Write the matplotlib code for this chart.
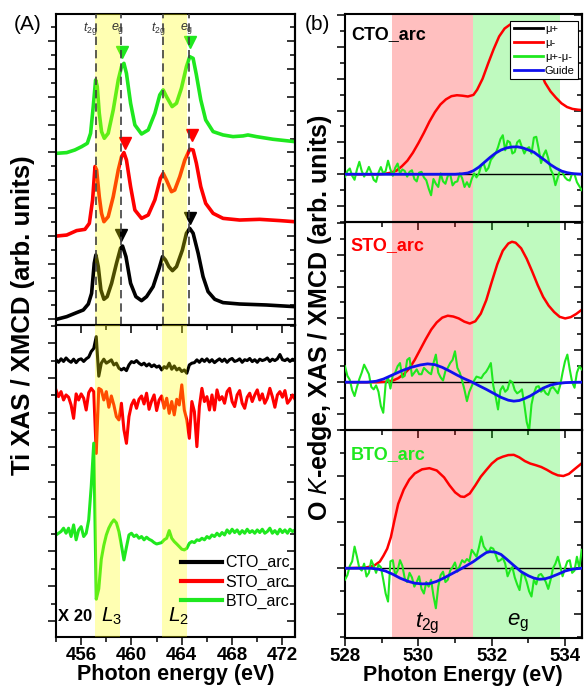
import numpy as np
import matplotlib
matplotlib.use("Agg")
import matplotlib.pyplot as plt
from matplotlib.ticker import MultipleLocator, NullFormatter
from matplotlib.lines import Line2D

plt.rcParams['font.family'] = ['Liberation Sans', 'DejaVu Sans']
plt.rcParams['mathtext.fontset'] = 'custom'
plt.rcParams['mathtext.rm'] = 'Liberation Sans'
plt.rcParams['mathtext.it'] = 'Liberation Sans:italic'
plt.rcParams['mathtext.bf'] = 'Liberation Sans:bold'

# ---------------- Ti L-edge XAS (panel A, top) ----------------
xas_cto_e = [454.05, 454.85, 455.64, 456.17, 456.57, 456.83, 457.04, 457.17, 457.36, 457.57, 457.81,
             458.07, 458.42, 458.81, 459.13, 459.29, 459.56, 459.93, 460.35, 460.8, 461.2, 461.72,
             462.2, 462.47, 462.7, 462.97, 463.26, 463.58, 464.05, 464.37, 464.63, 464.9, 465.3,
             465.69, 466.09, 466.62, 467.28, 468.6, 470.72, 472.97]
xas_cto_y = [0.41, 0.6, 0.89, 1.08, 1.51, 2.28, 4.44, 5.04, 4.2, 2.52, 1.85,
             2.04, 3.0, 4.44, 5.52, 5.68, 4.92, 3.0, 2.04, 1.75, 2.04, 2.76,
             4.08, 4.92, 4.68, 4.2, 3.91, 4.2, 5.4, 6.6, 6.95, 6.6, 5.16,
             3.48, 2.4, 1.85, 1.61, 1.51, 1.44, 1.32]
xas_sto_e = [454.05, 454.85, 455.64, 456.3, 456.65, 456.91, 457.1, 457.23, 457.44, 457.62, 457.81,
             458.15, 458.55, 458.95, 459.21, 459.4, 459.6, 459.93, 460.27, 460.8, 461.33, 461.86,
             462.3, 462.52, 462.78, 463.18, 463.44, 463.84, 464.24, 464.63, 464.9, 465.16, 465.51,
             465.9, 466.49, 467.28, 468.6, 470.19, 471.78, 472.97]
xas_sto_y = [6.4, 6.47, 6.79, 6.88, 7.31, 9.0, 11.4, 11.15, 9.23, 8.03, 7.43,
             7.79, 9.23, 11.15, 12.11, 12.4, 11.87, 9.95, 8.27, 7.67, 7.91, 9.0,
             10.55, 10.91, 10.43, 9.59, 9.71, 10.67, 11.87, 12.64, 12.59, 11.63, 9.95,
             8.75, 8.03, 7.67, 7.55, 7.6, 7.51, 7.43]
xas_bto_e = [454.05, 454.85, 455.5, 456.04, 456.49, 456.75, 456.96, 457.15, 457.28, 457.44, 457.62,
             457.84, 458.15, 458.55, 458.95, 459.21, 459.4, 459.6, 459.93, 460.27, 460.8, 461.33,
             461.86, 462.25, 462.52, 462.78, 463.23, 463.58, 463.97, 464.37, 464.63, 464.9, 465.16,
             465.51, 465.9, 466.49, 467.28, 468.07, 468.87, 469.26, 469.93, 471.25, 472.97]
xas_bto_y = [12.35, 12.4, 12.59, 12.83, 13.07, 13.79, 15.71, 17.63, 17.15, 15.23, 13.91,
             13.43, 13.79, 15.47, 17.63, 18.59, 18.82, 18.1, 15.95, 14.39, 13.74, 14.03,
             15.23, 16.55, 16.91, 16.43, 15.71, 15.95, 17.03, 18.59, 19.3, 19.18, 17.99,
             16.19, 14.75, 13.91, 13.67, 13.55, 13.6, 13.67, 13.55, 13.36, 13.19]
# e_g peak markers
tri_e_cto, tri_y_cto = [459.13, 464.66], [6.47, 7.67]
tri_e_sto, tri_y_sto = [459.45, 464.82], [13.12, 13.67]
tri_e_bto, tri_y_bto = [459.24, 464.63], [19.66, 20.38]
ti_guides = [457.15, 459.16, 462.5, 464.6]
ti_bands = [(457.1, 459.1), (462.4, 464.45)]

# ---------------- Ti L-edge XMCD (panel A, bottom), x20 ----------------
xmcd_e = np.round(454.0 + 0.2 * np.arange(96), 2)
xmcd_cto = [0.05, -0.1, 0.1, -0.05, 0.15, 0.0, -0.1, 0.08, -0.12, 0.05,
            0.1, -0.05, 0.1, 0.2, 0.52, 0.7, 1.38, -0.9, -0.15, 0.08,
            -0.15, -0.06, 0.04, -0.25, -0.15, -0.44, -0.54, -0.44, -0.58, -0.25,
            -0.06, -0.12, 0.0, -0.15, -0.25, -0.15, -0.31, -0.19, -0.35, -0.25,
            -0.38, -0.31, -0.54, -0.35, -0.44, -0.15, -0.5, -0.31, -0.54, -0.44,
            -0.63, -0.54, -0.73, -0.25, -0.15, -0.12, 0.04, -0.1, 0.08, -0.05,
            0.1, -0.08, 0.05, -0.12, 0.0, 0.1, -0.05, 0.08, -0.1, 0.05,
            0.12, -0.05, 0.0, 0.1, -0.1, 0.05, 0.0, 0.12, -0.06, 0.05,
            -0.1, 0.08, 0.0, 0.05, 0.15, -0.05, 0.08, 0.0, 0.1, 0.35,
            0.05, 0.0, 0.1, -0.05, 0.08, 0.02]
xmcd_sto = [0.29, -0.1, 0.19, -0.29, 0.0, -0.13, -0.58, -1.35, 0.06, -0.29,
            0.06, -0.19, -0.87, 0.13, 0.38, 0.19, -3.37, 0.38, 0.29, -0.29,
            0.19, -0.71, -0.06, -0.58, -1.25, -1.44, -0.48, -2.0, -2.79, -1.25,
            -0.58, -0.29, -0.77, -0.25, -0.06, -0.52, 0.1, -0.83, -0.35, 0.0,
            -0.9, -0.29, -0.06, -0.77, -0.19, -1.06, -0.38, -1.15, -0.25, -0.58,
            0.58, -0.87, -1.44, -2.5, -0.38, -0.96, -2.98, -0.67, 0.38, -0.38,
            -0.1, -0.87, 0.0, -0.87, 0.29, -0.29, -0.1, -0.48, 0.19, 0.38,
            -0.38, -0.67, 0.0, 0.25, -0.48, -0.77, -0.13, 0.1, -0.38, 0.0,
            0.29, -0.29, 0.06, -0.48, -0.19, 0.38, -0.1, -0.71, 0.0, 0.19,
            -0.13, 0.25, -0.48, -0.29, 0.0, -0.25]
xmcd_bto = [-0.1, 0.0, 0.1, 0.29, 0.0, 0.29, -0.19, 0.48, -0.38, 0.19,
            0.38, -0.19, 0.0, 0.77, 2.69, 5.19, -3.8, -3.2, -1.5, -0.7,
            -0.1, 0.3, 0.58, 0.77, 0.6, 0.1, -0.7, -1.54, -0.8, -0.1,
            0.0, -0.19, -0.1, -0.29, -0.19, -0.38, -0.23, -0.35, -0.42, -0.54,
            -0.62, -0.58, -0.54, -0.38, -0.29, 0.15, -0.29, -0.48, -0.62, -0.77,
            -0.92, -0.96, -0.87, -0.58, -0.48, -0.54, -0.38, -0.42, -0.29, -0.38,
            -0.19, -0.29, -0.1, -0.19, 0.0, -0.15, 0.04, -0.1, 0.19, 0.0,
            0.23, 0.04, 0.19, -0.04, 0.15, 0.0, 0.23, 0.04, 0.15, 0.0,
            0.19, 0.04, 0.23, 0.0, 0.1, 0.29, 0.0, 0.15, -0.04, 0.23,
            0.04, 0.19, 0.0, 0.23, 0.1, 0.19]
xmcd_offsets = {'CTO_arc': 15.93, 'STO_arc': 13.95, 'BTO_arc': 5.98}

# ---------------- O K-edge (panel b) ----------------
ok_cto_mu_e = [528.0, 528.5, 528.9, 529.1, 529.25, 529.4, 529.55, 529.7, 529.85, 530.0, 530.15, 530.3,
               530.45, 530.6, 530.75, 530.9, 531.05, 531.2, 531.35, 531.5, 531.6, 531.75, 531.9, 532.05,
               532.2, 532.35, 532.5, 532.6, 532.72, 532.85, 533.0, 533.15, 533.3, 533.45, 533.6, 533.75,
               533.9, 534.05, 534.2, 534.35, 534.45]
ok_cto_mu_y = [0.0, 0.0, 0.0, 0.03, 0.1, 0.22, 0.5, 0.85, 1.35, 1.95, 2.6, 3.3,
               3.9, 4.38, 4.7, 4.9, 4.96, 4.93, 4.88, 4.98, 5.3, 6.0, 6.95, 7.85,
               8.65, 9.15, 9.4, 9.43, 9.35, 9.05, 8.5, 7.65, 6.6, 5.75, 5.2, 4.8,
               4.45, 4.22, 4.1, 4.05, 4.03]
ok_sto_mu_e = [528.0, 528.9, 529.1, 529.3, 529.45, 529.6, 529.75, 529.9, 530.05, 530.2, 530.35, 530.5,
               530.65, 530.8, 530.95, 531.1, 531.25, 531.4, 531.55, 531.7, 531.85, 532.0, 532.15, 532.3,
               532.45, 532.55, 532.65, 532.8, 532.95, 533.1, 533.25, 533.4, 533.55, 533.7, 533.85, 534.0,
               534.15, 534.3, 534.45]
ok_sto_mu_y = [0.0, 0.0, 0.03, 0.1, 0.25, 0.5, 0.85, 1.4, 2.05, 2.7, 3.3, 3.75,
               4.05, 4.17, 4.12, 4.0, 3.8, 3.68, 3.82, 4.3, 5.15, 6.3, 7.4, 8.25,
               8.7, 8.81, 8.75, 8.4, 7.75, 6.95, 6.1, 5.35, 4.8, 4.4, 4.1, 4.0,
               4.08, 4.28, 4.54]
ok_bto_mu_e = [528.0, 528.4, 528.6, 528.8, 528.95, 529.05, 529.15, 529.25, 529.35, 529.45, 529.6, 529.75,
               529.9, 530.1, 530.3, 530.5, 530.7, 530.85, 531.0, 531.15, 531.25, 531.4, 531.55, 531.7,
               531.85, 532.0, 532.15, 532.3, 532.45, 532.6, 532.75, 532.9, 533.05, 533.2, 533.35, 533.5,
               533.65, 533.8, 533.95, 534.1, 534.25, 534.45]
ok_bto_mu_y = [0.0, 0.02, 0.04, 0.12, 0.29, 0.55, 0.85, 1.35, 2.1, 2.8, 3.42, 3.85,
               4.12, 4.3, 4.35, 4.25, 3.95, 3.6, 3.3, 3.12, 3.1, 3.25, 3.6, 3.98,
               4.27, 4.55, 4.75, 4.85, 4.92, 4.93, 4.82, 4.66, 4.55, 4.48, 4.4, 4.28,
               4.14, 4.04, 4.01, 4.1, 4.3, 4.56]

ok_cto_guide_e = [528.0, 531.0, 531.2, 531.35, 531.5, 531.65, 531.8, 531.95, 532.1, 532.25, 532.4, 532.55,
                  532.7, 532.85, 533.0, 533.15, 533.3, 533.45, 533.6, 533.75, 533.9, 534.05, 534.2, 534.45]
ok_cto_guide_y = [0.0, 0.0, 0.03, 0.08, 0.22, 0.45, 0.75, 1.05, 1.32, 1.52, 1.65, 1.71,
                  1.72, 1.65, 1.52, 1.38, 1.12, 0.87, 0.6, 0.38, 0.2, 0.1, 0.04, 0.0]
ok_sto_guide_e = [528.0, 528.6, 528.85, 529.05, 529.3, 529.55, 529.8, 530.05, 530.25, 530.45, 530.65, 530.85,
                  531.05, 531.25, 531.45, 531.65, 531.85, 532.05, 532.25, 532.45, 532.6, 532.75, 532.9, 533.05,
                  533.2, 533.4, 533.6, 533.8, 534.0, 534.2, 534.45]
ok_sto_guide_y = [0.0, 0.0, 0.06, 0.2, 0.46, 0.72, 0.93, 1.08, 1.15, 1.1, 0.93, 0.7,
                  0.45, 0.22, 0.02, -0.22, -0.45, -0.7, -0.95, -1.13, -1.19, -1.15, -1.02, -0.86,
                  -0.65, -0.37, -0.18, -0.08, -0.03, -0.01, 0.0]
ok_bto_guide_e = [528.0, 528.7, 528.9, 529.1, 529.3, 529.5, 529.7, 529.9, 530.1, 530.3, 530.5, 530.7,
                  530.9, 531.1, 531.3, 531.5, 531.7, 531.85, 531.95, 532.1, 532.25, 532.4, 532.6, 532.8,
                  533.0, 533.15, 533.3, 533.45, 533.6, 533.8, 534.0, 534.2, 534.45]
ok_bto_guide_y = [0.0, 0.0, -0.04, -0.12, -0.26, -0.43, -0.56, -0.65, -0.68, -0.67, -0.57, -0.42,
                  -0.25, -0.08, 0.1, 0.29, 0.52, 0.68, 0.72, 0.7, 0.6, 0.4, 0.12, -0.15,
                  -0.33, -0.43, -0.48, -0.46, -0.39, -0.26, -0.12, -0.04, 0.0]

ok_diff_e = np.linspace(528.0, 534.45, 100)
ok_cto_diff = [-0.17, 0.2, 0.36, -0.1, -0.35, 0.3, 0.78, 0.2, -0.15, 0.1,
               0.46, 0.1, -0.35, -0.48, 0.1, 0.45, 0.05, 0.2, 0.85, 0.3,
               -0.1, 0.4, 0.67, 0.05, 0.3, 0.2, -0.15, 0.15, 0.25, -0.3,
               -0.45, 0.1, 0.15, -0.2, -0.38, -0.9, -1.32, -0.3, -0.6, -0.8,
               0.05, -0.45, -0.6, -0.1, 0.0, -0.7, -0.5, -0.45, 0.05, -0.25,
               -0.8, -0.5, -0.8, -0.3, 0.05, -0.2, 0.05, 0.55, 0.67, 0.2,
               0.4, 0.9, 1.09, 1.3, 1.7, 2.2, 2.45, 1.5, 2.1, 2.0,
               1.3, 1.4, 2.0, 2.14, 1.7, 1.3, 1.6, 1.7, 1.3, 2.3,
               2.35, 1.6, 0.7, 1.2, 1.5, 1.0, 0.3, 0.0, -0.69, -0.2,
               0.25, 0.1, -0.2, -0.35, -0.4, 0.05, 0.0, -0.5, -0.75, -1.0]
ok_sto_diff = [1.0, 0.4, 0.15, -0.5, -0.87, -0.3, 0.2, 0.6, 1.1, 0.8,
               0.5, -0.3, -0.45, -0.2, -0.6, -1.5, -1.92, -0.1, 0.3, -0.4,
               0.45, 0.6, 1.0, 1.2, 0.3, 0.4, 1.4, 1.52, 0.4, 0.6,
               0.8, 0.5, 0.5, 0.9, 0.75, 0.6, 0.5, 1.2, 1.73, 0.6,
               0.3, 0.1, 0.7, 0.9, 1.2, 1.4, 1.94, 0.9, 0.6, 0.1,
               -0.5, -1.19, -0.6, -0.25, 0.1, 0.35, 0.3, 0.25, 0.5, 0.65,
               0.9, 1.2, -0.2, -0.9, -1.71, -0.5, -0.25, -0.6, -0.45, 0.1,
               0.0, -0.5, -0.7, -0.6, -0.45, -1.4, -2.5, -3.06, -1.4, -0.7,
               -0.3, -0.25, -0.6, -0.45, -0.7, -0.8, -0.4, -0.3, -0.5, -0.7,
               -0.2, 0.6, 1.3, 1.73, 0.8, 0.0, -0.35, 0.6, 1.0, 0.8]
ok_bto_diff = [-0.5, -0.3, 0.1, 0.3, 0.94, 0.5, 0.0, -0.1, 0.2, -0.36,
               -0.2, 0.35, 0.1, -0.2, 0.15, 0.05, -0.5, -1.1, -1.45, 0.3,
               0.35, -0.3, -0.1, 0.35, 0.1, -0.45, -0.6, -0.2, -0.4, -0.8,
               -0.6, -0.35, -0.9, -1.1, -0.6, -0.8, -0.5, -1.2, -1.74, -0.8,
               -0.3, -0.15, -0.6, -0.5, -0.1, 0.05, 0.25, -0.15, 0.1, 0.35,
               0.25, 0.4, 0.3, 0.8, 0.65, 0.5, 0.9, 1.38, 0.95, 0.8,
               0.7, 0.9, 0.85, 0.6, 0.3, 0.35, 0.45, 0.2, -0.35, -0.1,
               0.05, -0.4, -0.7, -0.95, -0.2, -0.3, -0.6, -1.0, -1.23, -0.5,
               -0.7, -0.3, -0.25, -0.4, -0.6, -0.9, -0.5, 0.0, 0.2, 0.5,
               0.1, -0.35, 0.0, 0.3, 0.35, -0.2, -0.1, 0.5, 0.0, 0.8]
o_t2g_band = (529.27, 531.48)
o_eg_band = (531.48, 533.86)

# ---------------- styling ----------------
BLACK, RED, GREEN, BLUE = '#000000', '#ff0000', '#1fe81f', '#1010ee'
W, H = 584, 698
fig = plt.figure(figsize=(W / 100, H / 100), dpi=100)


def frac(x0, y0, x1, y1):
    return [x0 / W, 1 - y1 / H, (x1 - x0) / W, (y1 - y0) / H]


def style_y(ax, major, minor, offset=0.0):
    ax.yaxis.set_major_locator(MultipleLocator(major, offset=offset))
    ax.yaxis.set_minor_locator(MultipleLocator(minor, offset=offset))
    ax.yaxis.set_major_formatter(NullFormatter())
    ax.tick_params(axis='y', which='both', direction='out', left=True, right=False, width=1.1)
    ax.tick_params(axis='y', which='major', length=5.5)
    ax.tick_params(axis='y', which='minor', length=3.5)
    sec = ax.secondary_yaxis('right')
    sec.yaxis.set_major_locator(MultipleLocator(major, offset=offset))
    sec.yaxis.set_minor_locator(MultipleLocator(minor, offset=offset))
    sec.yaxis.set_major_formatter(NullFormatter())
    sec.tick_params(axis='y', which='both', direction='in', width=1.1)
    sec.tick_params(axis='y', which='major', length=5.5)
    sec.tick_params(axis='y', which='minor', length=3.5)
    sec.spines['right'].set_linewidth(1.5)


def style_x(ax, major, minor, labels, top_in=False):
    ax.xaxis.set_major_locator(MultipleLocator(major))
    ax.xaxis.set_minor_locator(MultipleLocator(minor))
    ax.tick_params(axis='x', which='both', direction='out', bottom=True, top=False, width=1.1)
    ax.tick_params(axis='x', which='major', length=5.5, labelsize=13.5, pad=2)
    ax.tick_params(axis='x', which='minor', length=3.5)
    if not labels:
        ax.xaxis.set_major_formatter(NullFormatter())
    else:
        for t in ax.get_xticklabels():
            t.set_fontweight('bold')
    if top_in:
        sec = ax.secondary_xaxis('top')
        sec.xaxis.set_major_locator(MultipleLocator(major))
        sec.xaxis.set_minor_locator(MultipleLocator(minor))
        sec.xaxis.set_major_formatter(NullFormatter())
        sec.tick_params(axis='x', which='both', direction='in', width=1.1)
        sec.tick_params(axis='x', which='major', length=5.5)
        sec.tick_params(axis='x', which='minor', length=3.5)
    for s in ax.spines.values():
        s.set_linewidth(1.5)


# ---- panel A top ----
axA1 = fig.add_axes(frac(56, 14, 295, 325))
axA1.set_xlim(454, 473)
axA1.set_ylim(0, 22.37)
lw = 2.6
axA1.plot(xas_cto_e, xas_cto_y, color=BLACK, lw=lw, solid_joinstyle='round')
axA1.plot(xas_sto_e, xas_sto_y, color=RED, lw=lw, solid_joinstyle='round')
axA1.plot(xas_bto_e, xas_bto_y, color=GREEN, lw=lw, solid_joinstyle='round')
axA1.plot(tri_e_cto, tri_y_cto, 'v', color=BLACK, ms=9, ls='none')
axA1.plot(tri_e_sto, tri_y_sto, 'v', color=RED, ms=9, ls='none')
axA1.plot(tri_e_bto, tri_y_bto, 'v', color=GREEN, ms=9, ls='none')
for a, b in ti_bands:
    axA1.axvspan(a, b, color='#ffff00', alpha=0.3, lw=0, zorder=4)
for e in ti_guides:
    axA1.axvline(e, color='#404040', lw=1.2, ls=(0, (5, 3)), zorder=5)
for e, lab in zip([456.71, 458.88, 462.13, 464.36],
                  [r'$t_{\mathrm{2g}}$', r'$e_{\mathrm{g}}$', r'$t_{\mathrm{2g}}$', r'$e_{\mathrm{g}}$']):
    axA1.text(e, 21.35, lab, fontsize=9, color='#333333', ha='center', va='center', zorder=6)
style_x(axA1, 4, 2, labels=False)
style_y(axA1, 2, 1, offset=0.41)

# ---- panel A bottom ----
axA2 = fig.add_axes(frac(56, 325, 295, 637))
axA2.set_xlim(454, 473)
axA2.set_ylim(0, 17.98)
for name, dev, col in [('CTO_arc', xmcd_cto, BLACK), ('STO_arc', xmcd_sto, RED), ('BTO_arc', xmcd_bto, GREEN)]:
    axA2.plot(xmcd_e, np.array(dev) + xmcd_offsets[name], color=col, lw=2.2, label=name)
for a, b in ti_bands:
    axA2.axvspan(a, b, color='#ffff00', alpha=0.3, lw=0, zorder=4)
axA2.text(454.12, 1.2, 'X 20', fontsize=12, fontweight='bold', ha='left', va='center', zorder=6)
axA2.text(457.55, 1.2, r'$L_3$', fontsize=15, ha='left', va='center', zorder=6)
axA2.text(462.9, 1.2, r'$L_2$', fontsize=15, ha='left', va='center', zorder=6)
leg = axA2.legend(loc='lower right', bbox_to_anchor=(1.02, 0.06), frameon=False, fontsize=11.5,
                  handlelength=2.6, labelspacing=0.25, handletextpad=0.2, borderaxespad=0.2)
for l in leg.get_lines():
    l.set_linewidth(3)
style_x(axA2, 4, 2, labels=True, top_in=True)
style_y(axA2, 2, 1, offset=0.93)
axA2.set_xlabel('Photon energy (eV)', fontsize=15.5, fontweight='bold', labelpad=0)

# ---- panel b ----
rows = [
    ('CTO_arc', BLACK, ok_cto_mu_e, ok_cto_mu_y, ok_cto_guide_e, ok_cto_guide_y, ok_cto_diff, 14, 222, (-3, 10.06), 0.9),
    ('STO_arc', RED, ok_sto_mu_e, ok_sto_mu_y, ok_sto_guide_e, ok_sto_guide_y, ok_sto_diff, 222, 430, (-3, 10.05), 0.885),
    ('BTO_arc', GREEN, ok_bto_mu_e, ok_bto_mu_y, ok_bto_guide_e, ok_bto_guide_y, ok_bto_diff, 430, 637.7, (-3.02, 6.01), 0.88),
]
axes_b = []
for i, (name, tcol, me, my, ge, gy, dy, y0, y1, yl, ty) in enumerate(rows):
    ax = fig.add_axes(frac(345, y0, 581.7, y1))
    ax.set_xlim(528, 534.45)
    ax.set_ylim(*yl)
    ax.axvspan(*o_t2g_band, color='#ff0000', alpha=0.25, lw=0, zorder=0.5)
    ax.axvspan(*o_eg_band, color='#00ee00', alpha=0.25, lw=0, zorder=0.5)
    ax.axhline(0, color=BLACK, lw=1.0, zorder=2)
    ax.plot(me, my, color=RED, lw=1.8, zorder=2.5)
    ax.plot(ok_diff_e, dy, color=GREEN, lw=1.5, zorder=3)
    ax.plot(ge, gy, color=BLUE, lw=2.0, zorder=3.5)
    ax.text(0.025, ty, name, transform=ax.transAxes, fontsize=13, fontweight='bold', color=tcol,
            ha='left', va='center')
    style_x(ax, 2, 1, labels=(i == 2), top_in=(i > 0))
    style_y(ax, 2, 1, offset=0.0)
    axes_b.append(ax)

handles = [Line2D([], [], color=BLACK, lw=2), Line2D([], [], color=RED, lw=2),
           Line2D([], [], color=GREEN, lw=2), Line2D([], [], color=BLUE, lw=2)]
lg = axes_b[0].legend(handles, ['\u03bc+', '\u03bc-', '\u03bc+-\u03bc-', 'Guide'], loc='upper right',
                      bbox_to_anchor=(0.985, 0.968), fontsize=8, handlelength=2.6, labelspacing=0.35,
                      handletextpad=0.2, borderpad=0.3, fancybox=False, framealpha=1, edgecolor='#000000',
                      borderaxespad=0)
lg.get_frame().set_linewidth(0.8)
lg.set_zorder(10)
axb = axes_b[2]
axb.text(530.25, -2.4, r'$t_{\mathrm{2g}}$', fontsize=16, ha='center', va='center', zorder=6)
axb.text(532.7, -2.4, r'$e_{\mathrm{g}}$', fontsize=16, ha='center', va='center', zorder=6)
axb.set_xlabel('Photon Energy (eV)', fontsize=15.5, fontweight='bold', labelpad=0)

# ---- labels ----
fig.text(23 / W, 1 - 315 / H, 'Ti XAS / XMCD (arb. units)', rotation=90, fontsize=18.5,
         fontweight='bold', ha='center', va='center')
fig.text(320 / W, 1 - 318 / H, r'O $\bf{\it{K}}$-edge, XAS / XMCD (arb. units)', rotation=90, fontsize=18,
         fontweight='bold', ha='center', va='center')
fig.text(28 / W, 1 - 24 / H, '(A)', fontsize=15, ha='center', va='center')
fig.text(317 / W, 1 - 25 / H, '(b)', fontsize=15, ha='center', va='center')

fig.savefig('out.png', dpi=100)
